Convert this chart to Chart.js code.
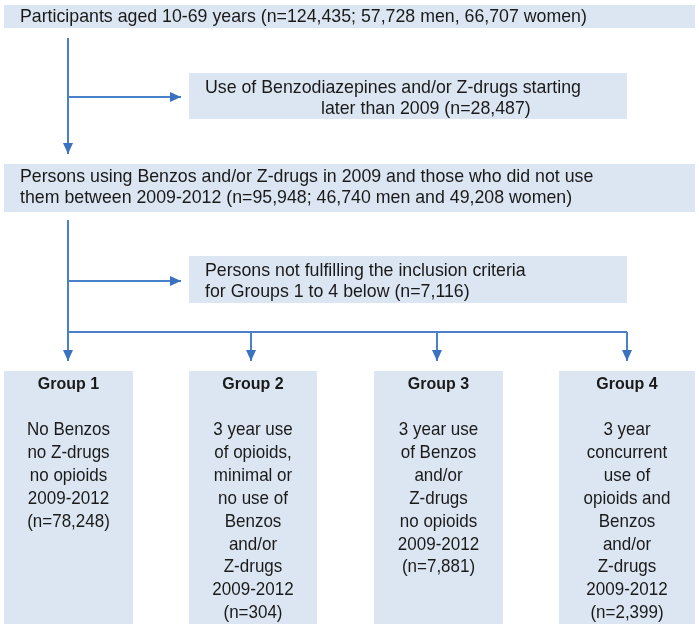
<!DOCTYPE html>
<html>
<head>
<meta charset="utf-8">
<title>Study flowchart</title>
<script src="https://cdn.jsdelivr.net/npm/chart.js@4/dist/chart.umd.min.js"></script>
<style>
  html, body { margin: 0; padding: 0; background: #fff; }
  #wrap { width: 699px; height: 629px; position: relative; }
</style>
</head>
<body>
<div id="wrap"><canvas id="flowChart"></canvas></div>
<script>
// --- data (counts) ---
const totalCount = 124435;
const totalMen = 57728;
const totalWomen = 66707;
const lateStarters = 28487;
const cohortCount = 95948;
const cohortMen = 46740;
const cohortWomen = 49208;
const notFulfilling = 7116;

const groupNames = ['Group 1', 'Group 2', 'Group 3', 'Group 4'];
const groupCounts = [78248, 304, 7881, 2399];
const groupDescriptions = [
    ['No Benzos', 'no Z-drugs', 'no opioids', '2009-2012'],
    ['3 year use', 'of opioids,', 'minimal or', 'no use of', 'Benzos', 'and/or', 'Z-drugs', '2009-2012'],
    ['3 year use', 'of Benzos', 'and/or', 'Z-drugs', 'no opioids', '2009-2012'],
    ['3 year', 'concurrent', 'use of', 'opioids and', 'Benzos', 'and/or', 'Z-drugs', '2009-2012']
];

const fmt = n => n.toLocaleString('en-US');

// --- layout (page units, y grows downwards) ---
const boxFill = '#dce6f2';
const lineColor = '#4a80c8';
const arrowColor = '#3a72c0';
const textColor = '#1a1a1a';
const fontFamily = '"Liberation Sans", Arial, sans-serif';
const topFontSize = 17.75;
const groupFontSize = 17;
const groupTitleSize = 16;
const groupStretchY = 1.08; // group texts look a little taller than wide

// top boxes: [left, top, right, bottom], text lines as [x, y, string]
const topBoxes = [
    { rect: [4, 5, 695, 28], lines: [
        [20, 17, `Participants aged 10-69 years (n=${fmt(totalCount)}; ${fmt(totalMen)} men, ${fmt(totalWomen)} women)`]
    ] },
    { rect: [189, 73, 627, 119], lines: [
        [205, 88, 'Use of Benzodiazepines and/or Z-drugs starting'],
        [321, 109, `later than 2009 (n=${fmt(lateStarters)})`]
    ] },
    { rect: [4, 164, 695, 212], lines: [
        [20, 177, 'Persons using Benzos and/or Z-drugs in 2009 and those who did not use'],
        [20, 198, `them between 2009-2012 (n=${fmt(cohortCount)}; ${fmt(cohortMen)} men and ${fmt(cohortWomen)} women)`]
    ] },
    { rect: [189, 256, 627, 303], lines: [
        [205, 271, 'Persons not fulfilling the inclusion criteria'],
        [205, 292, `for Groups 1 to 4 below (n=${fmt(notFulfilling)})`]
    ] }
];

const groupRects = [[4, 371, 133, 624], [189, 371, 317, 624], [374, 371, 503, 624], [559, 371, 695, 624]];
const groupTitleY = 384;
const groupFirstLineY = 430;
const groupLineStep = 22.9;

// connectors: list of points, arrow at the last point when arrow is true
const connectors = [
    { pts: [[68, 38], [68, 154]], arrow: true },
    { pts: [[68, 97], [181, 97]], arrow: true },
    { pts: [[68, 220], [68, 361]], arrow: true },
    { pts: [[68, 281], [181, 281]], arrow: true },
    { pts: [[68, 332], [627, 332]], arrow: false },
    { pts: [[251, 332], [251, 361]], arrow: true },
    { pts: [[437, 332], [437, 361]], arrow: true },
    { pts: [[627, 332], [627, 361]], arrow: true }
];

// draws the boxes and their texts underneath the connector lines
const boxesPlugin = {
    id: 'boxes',
    beforeDatasetsDraw(chart) {
        const { ctx, scales: { x, y } } = chart;
        const rect = r => {
            const x0 = x.getPixelForValue(r[0]), y0 = y.getPixelForValue(r[1]);
            const x1 = x.getPixelForValue(r[2]), y1 = y.getPixelForValue(r[3]);
            ctx.fillStyle = boxFill;
            ctx.fillRect(x0, y0, x1 - x0, y1 - y0);
        };
        const stretched = (s, px, py) => {
            ctx.save();
            ctx.translate(px, py);
            ctx.scale(1, groupStretchY);
            ctx.fillText(s, 0, 0);
            ctx.restore();
        };
        ctx.save();
        ctx.textBaseline = 'middle';

        topBoxes.forEach(b => {
            rect(b.rect);
            ctx.fillStyle = textColor;
            ctx.font = `${topFontSize}px ${fontFamily}`;
            ctx.textAlign = 'left';
            b.lines.forEach(([tx, ty, s]) => {
                ctx.fillText(s, x.getPixelForValue(tx), y.getPixelForValue(ty));
            });
        });

        groupRects.forEach((r, i) => {
            rect(r);
            const cx = x.getPixelForValue((r[0] + r[2]) / 2);
            ctx.fillStyle = textColor;
            ctx.textAlign = 'center';
            ctx.font = `bold ${groupTitleSize}px ${fontFamily}`;
            stretched(groupNames[i], cx, y.getPixelForValue(groupTitleY));
            ctx.font = `${groupFontSize}px ${fontFamily}`;
            const lines = groupDescriptions[i].concat([`(n=${fmt(groupCounts[i])})`]);
            lines.forEach((s, k) => {
                stretched(s, cx, y.getPixelForValue(groupFirstLineY + k * groupLineStep));
            });
        });
        ctx.restore();
    }
};

// arrow heads at the end of connectors
const arrowPlugin = {
    id: 'arrows',
    afterDatasetsDraw(chart) {
        const { ctx } = chart;
        ctx.save();
        ctx.fillStyle = arrowColor;
        chart.data.datasets.forEach((ds, i) => {
            if (!connectors[i].arrow) return;
            const pts = chart.getDatasetMeta(i).data;
            const a = pts[pts.length - 2], b = pts[pts.length - 1];
            const ang = Math.atan2(b.y - a.y, b.x - a.x);
            const len = 11, half = 5;
            ctx.save();
            ctx.translate(b.x, b.y);
            ctx.rotate(ang);
            ctx.beginPath();
            ctx.moveTo(0, 0);
            ctx.lineTo(-len, -half);
            ctx.lineTo(-len, half);
            ctx.closePath();
            ctx.fill();
            ctx.restore();
        });
        ctx.restore();
    }
};

new Chart(document.getElementById('flowChart'), {
    type: 'scatter',
    data: {
        datasets: connectors.map(c => ({
            data: c.pts.map(([px, py]) => ({ x: px, y: py })),
            showLine: true,
            borderColor: lineColor,
            borderWidth: 2,
            pointRadius: 0,
            pointHoverRadius: 0,
            fill: false
        }))
    },
    options: {
        responsive: true,
        maintainAspectRatio: false,
        animation: false,
        events: [],
        layout: { padding: 0 },
        plugins: {
            legend: { display: false },
            tooltip: { enabled: false }
        },
        scales: {
            x: { type: 'linear', min: 0, max: 699, display: false },
            y: { type: 'linear', min: 0, max: 629, reverse: true, display: false }
        }
    },
    plugins: [boxesPlugin, arrowPlugin]
});
</script>
</body>
</html>
